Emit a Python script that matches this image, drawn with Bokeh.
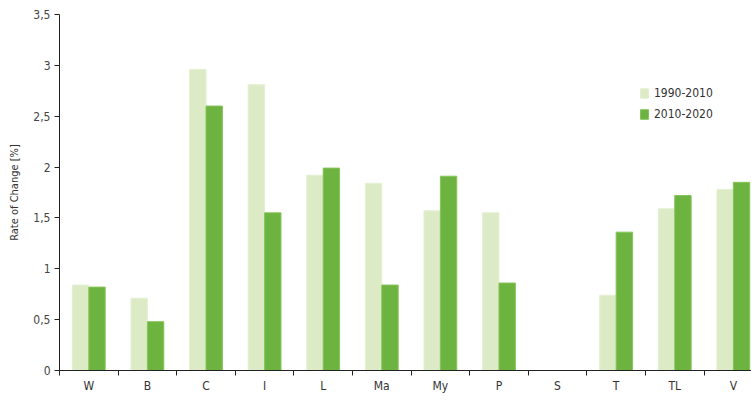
from bokeh.plotting import figure
from bokeh.models import FixedTicker, ColumnDataSource, Legend, LegendItem, Range1d
from bokeh.embed import file_html
from bokeh.resources import INLINE

categories = ["W", "B", "C", "I", "L", "Ma", "My", "P", "S", "T", "TL", "V"]
series_1990_2010 = [0.84, 0.71, 2.96, 2.81, 1.92, 1.84, 1.57, 1.55, 0.0, 0.74, 1.59, 1.78]
series_2010_2020 = [0.82, 0.48, 2.60, 1.55, 1.99, 0.84, 1.91, 0.86, 0.0, 1.36, 1.72, 1.85]
y_ticks = [0, 0.5, 1, 1.5, 2, 2.5, 3, 3.5]
y_tick_labels = ["0", "0,5", "1", "1,5", "2", "2,5", "3", "3,5"]

n = len(categories)
idx = list(range(n))
src = ColumnDataSource(dict(
    left1=[i + 0.22 for i in idx], right1=[i + 0.5 for i in idx], top1=series_1990_2010,
    left2=[i + 0.5 for i in idx], right2=[i + 0.78 for i in idx], top2=series_2010_2020,
))

p = figure(width=751, height=408, output_backend="svg", toolbar_location=None,
           x_range=Range1d(0, 11.81), y_range=Range1d(0, 3.5))
p.min_border_left = 59
p.min_border_right = 0
p.min_border_top = 14
p.min_border_bottom = 38
p.outline_line_color = None
p.xgrid.grid_line_color = None
p.ygrid.grid_line_color = None
p.background_fill_color = "white"
p.border_fill_color = "white"

r1 = p.quad(left="left1", right="right1", bottom=0, top="top1", source=src,
            fill_color="#dcebc5", line_color="#e4f0d2", line_width=1)
r2 = p.quad(left="left2", right="right2", bottom=0, top="top2", source=src,
            fill_color="#6db33f", line_color="#86c55a", line_width=1)

font = "DejaVu Sans Condensed"
# x axis
p.xaxis.ticker = FixedTicker(ticks=[i + 0.5 for i in idx], minor_ticks=[float(i) for i in idx] + [float(n)])
p.xaxis.major_label_overrides = {i + 0.5: c for i, c in enumerate(categories)}
p.xaxis.major_tick_line_color = None
p.xaxis.minor_tick_line_color = "#222222"
p.xaxis.minor_tick_out = 5
p.xaxis.minor_tick_in = 0
p.xaxis.axis_line_color = "#222222"
p.xaxis.major_label_text_font = font
p.xaxis.major_label_text_font_size = "12px"
p.xaxis.major_label_text_color = "#333333"
p.xaxis.major_label_standoff = 2

# y axis
p.yaxis.ticker = FixedTicker(ticks=y_ticks, minor_ticks=[])
p.yaxis.major_label_overrides = {t: l for t, l in zip(y_ticks, y_tick_labels)}
p.yaxis.major_tick_line_color = "#222222"
p.yaxis.major_tick_out = 5
p.yaxis.major_tick_in = 0
p.yaxis.axis_line_color = "#222222"
p.yaxis.major_label_text_font = font
p.yaxis.major_label_text_font_size = "12px"
p.yaxis.major_label_text_color = "#444444"
p.yaxis.major_label_standoff = 4
p.yaxis.axis_label = "Rate of Change [%]"
p.yaxis.axis_label_text_font = font
p.yaxis.axis_label_text_font_size = "11px"
p.yaxis.axis_label_text_font_style = "normal"
p.yaxis.axis_label_text_color = "#333333"
p.yaxis.axis_label_standoff = 9

legend = Legend(items=[LegendItem(label="1990-2010", renderers=[r1]),
                       LegendItem(label="2010-2020", renderers=[r2])],
                location=(580, 249))
legend.background_fill_alpha = 0
legend.border_line_color = None
legend.label_text_font = font
legend.label_text_font_size = "12px"
legend.label_text_color = "#333333"
legend.glyph_width = 10
legend.glyph_height = 12
legend.spacing = 7
legend.padding = 0
legend.margin = 0
legend.label_standoff = 5
legend.label_height = 14
p.add_layout(legend)

open("out.html", "w").write(file_html(p, INLINE))
